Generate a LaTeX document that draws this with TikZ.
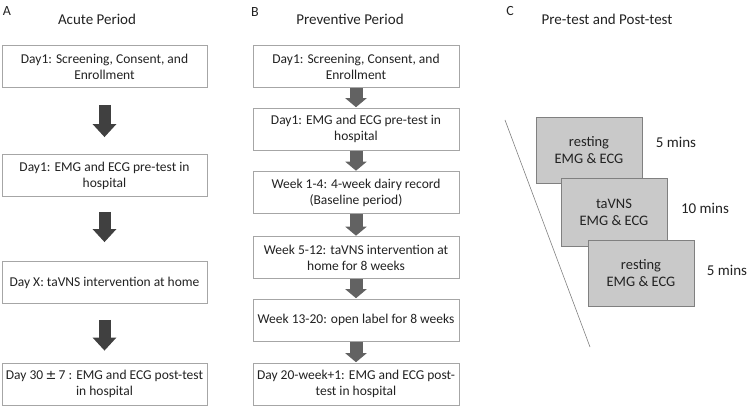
\documentclass[tikz,border=0pt]{standalone}
\usepackage{fontspec}
\setmainfont{Carlito}
\usetikzlibrary{arrows.meta}
\definecolor{boxline}{HTML}{A6A6A6}
\definecolor{txt}{HTML}{222222}
\definecolor{arrA}{HTML}{404040}
\definecolor{arrB}{HTML}{626262}
\definecolor{grayfill}{HTML}{C9C9C9}
\definecolor{grayline}{HTML}{808080}
\begin{document}
\begin{tikzpicture}[x=1pt,y=-1pt,
  every node/.style={text=txt, inner sep=0pt},
  flowbox/.style={draw=boxline, line width=0.8pt, fill=white, minimum height=42pt,
     align=center, font=\fontsize{13.5}{16}\selectfont},
  abox/.style={flowbox, minimum width=205pt},
  bbox/.style={flowbox, minimum width=206pt},
  title/.style={font=\fontsize{15}{18}\selectfont},
  panel/.style={font=\fontsize{14}{16}\selectfont},
  bigarrow/.style={draw=arrA, line width=12pt, -{Triangle[width=23pt,length=13pt]}},
  smallarrow/.style={draw=arrB, line width=13pt, -{Triangle[width=21pt,length=9pt]}},
  graybox/.style={draw=grayline, line width=0.8pt, fill=grayfill, minimum width=106pt,
     minimum height=66pt, align=center, font=\fontsize{14.5}{17}\selectfont},
  mins/.style={font=\fontsize{15}{18}\selectfont}
]
\useasboundingbox (0,0) rectangle (748,406);

% Panel A
\node[panel] (lA) at (7,11) {A};
\node[title] (tA) at (97,19) {Acute Period};
\node[abox] (a1) at (104.5,66.5) {Day1: Screening, Consent, and\\Enrollment};
\node[abox] (a2) at (104.5,175.5) {Day1: EMG and ECG pre-test in\\hospital};
\node[abox] (a3) at (104.5,282.5) {Day X: taVNS intervention at home};
\node[abox] (a4) at (104.5,384) {Day 30\,\raisebox{0.05ex}{\fontspec{DejaVu Sans}\fontsize{13}{14}\selectfont ±}\,7 : EMG and ECG post-test\\in hospital};
\draw[bigarrow, shorten <=17pt, shorten >=17pt] (a1.south) -- (a2.north);
\draw[bigarrow, shorten <=15pt, shorten >=19pt] (a2.south) -- (a3.north);
\draw[bigarrow, shorten <=16pt, shorten >=12pt] (a3.south) -- (a4.north);

% Panel B
\node[panel] (lB) at (255,12) {B};
\node[title] (tB) at (350,19) {Preventive Period};
\node[bbox] (b1) at (356,66.5) {Day1: Screening, Consent, and\\Enrollment};
\node[bbox] (b2) at (356,129) {Day1: EMG and ECG pre-test in\\hospital};
\node[bbox] (b3) at (356,192.5) {Week 1-4: 4-week dairy record\\(Baseline period)};
\node[bbox] (b4) at (356,257.5) {Week 5-12: taVNS intervention at\\home for 8 weeks};
\node[bbox] (b5) at (356,320) {Week 13-20: open label for 8 weeks};
\node[bbox] (b6) at (356,384) {Day 20-week+1: EMG and ECG post-\\test in hospital};
\foreach \u/\v in {b1/b2,b2/b3,b3/b4,b4/b5,b5/b6}
  \draw[smallarrow, shorten <=0.4pt, shorten >=0.4pt] (\u.south) -- (\v.north);

% Panel C
\node[panel] (lC) at (510,11) {C};
\node[title] (tC) at (607,19) {Pre-test and Post-test};
\coordinate (lnTop) at (505,120);
\coordinate (lnBot) at (590,347);
\draw[grayline, line width=0.6pt] (lnTop) -- (lnBot);
\node[graybox] (c1) at (589,150) {resting\\EMG \& ECG};
\node[graybox, minimum height=68pt] (c2) at (614,212) {taVNS\\EMG \& ECG};
\node[graybox] (c3) at (641,273) {resting\\EMG \& ECG};
\node[mins] (m1) at (676,142) {5 mins};
\node[mins] (m2) at (705,208) {10 mins};
\node[mins] (m3) at (727,270) {5 mins};
\end{tikzpicture}
\end{document}
